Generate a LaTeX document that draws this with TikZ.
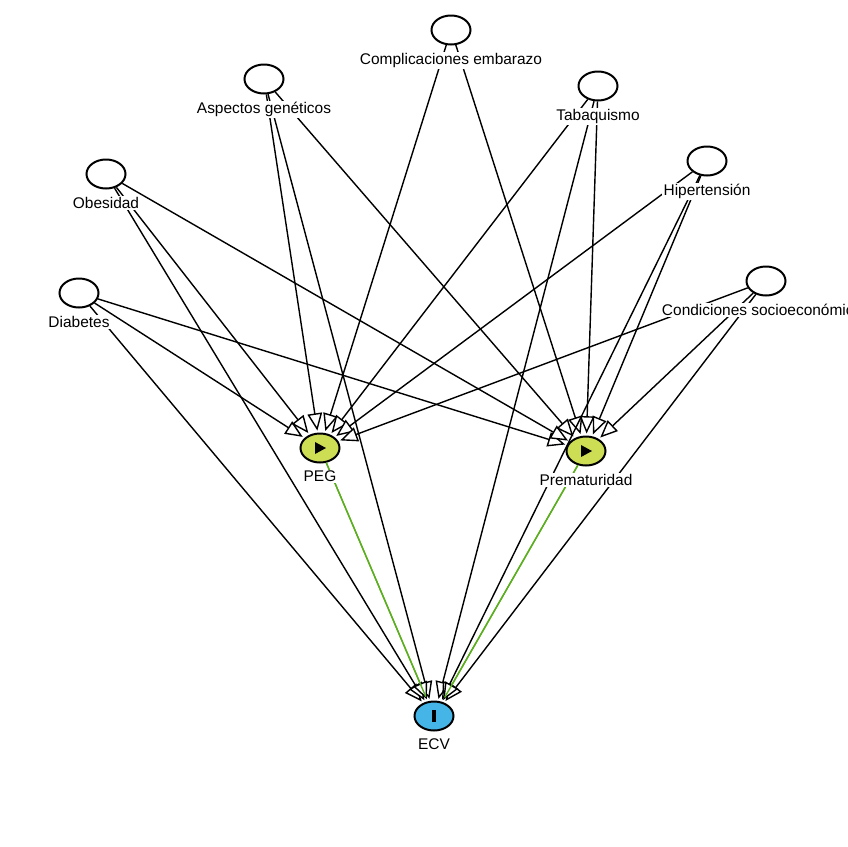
\documentclass[tikz,border=0pt]{standalone}
\usepackage{fontspec}
\setmainfont{Liberation Sans}
\usetikzlibrary{arrows.meta,positioning,shapes.geometric}
\definecolor{exposedfill}{HTML}{CEDE54}
\definecolor{outcomefill}{HTML}{45B5E8}
\definecolor{causalgreen}{HTML}{5BAE1E}
\tikzset{
	var/.style={draw, ellipse, line width=1.7pt, fill=white, inner sep=0pt, minimum width=11.7mm, minimum height=8.7mm},
	exposed/.style={var, fill=exposedfill},
	outcome/.style={var, fill=outcomefill},
	lbl/.style={fill=white, inner sep=1.2pt, font=\fontsize{13.2}{15}\selectfont},
	edge/.style={line width=1.2pt, shorten >=0.6mm, -{Triangle[open, fill=white, color=black, length=5.2mm, width=4.4mm, line width=1.2pt]}},
	causal/.style={edge, draw=causalgreen},
	causalline/.style={line width=1.2pt, shorten >=1.5mm, draw=causalgreen}
}

\begin{document}
\begin{tikzpicture}[x=0.3mm, y=-0.3mm]
	%%%%% FRAME %%%%%
	\useasboundingbox (0, 0) rectangle (848, 846);

	%%%%% VARIABLES %%%%%
	\node[var] (comp) at (451, 30) {};
	\node[var] (genes) at (264, 79) {};
	\node[var] (tabaco) at (598, 86) {};
	\node[var] (hiper) at (707, 161) {};
	\node[var] (obes) at (106, 174) {};
	\node[var] (socio) at (766, 281) {};
	\node[var] (diab) at (79, 293) {};
	\node[exposed] (peg) at (320, 448) {};
	\node[exposed] (prem) at (586, 451) {};
	\node[outcome] (ecv) at (434, 716) {};

	%%%%% EDGES %%%%%
	\draw[edge] (diab) -- (peg);
	\draw[edge] (diab) -- (prem);
	\draw[edge] (diab) -- (ecv);

	\draw[edge] (obes) -- (peg);
	\draw[edge] (obes) -- (prem);
	\draw[edge] (obes) -- (ecv);

	\draw[edge] (genes) -- (peg);
	\draw[edge] (genes) -- (prem);
	\draw[edge] (genes) -- (ecv);

	\draw[edge] (comp) -- (peg);
	\draw[edge] (comp) -- (prem);

	\draw[edge] (tabaco) -- (peg);
	\draw[edge] (tabaco) -- (prem);
	\draw[edge] (tabaco) -- (ecv);

	\draw[edge] (hiper) -- (peg);
	\draw[edge] (hiper) -- (prem);
	\draw[edge] (hiper) -- (ecv);

	\draw[edge] (socio) -- (peg);
	\draw[edge] (socio) -- (prem);
	\draw[edge] (socio) -- (ecv);

	\draw[causal] (peg) -- (ecv);
	\draw[causal] (prem) -- (ecv);
	\draw[causalline] (peg) -- (ecv);
	\draw[causalline] (prem) -- (ecv);

	%%%%% MARKS %%%%%
	\fill[shift={(peg)}] (-5, -6) -- (6, 0) -- (-5, 6) -- cycle;
	\fill[shift={(prem)}] (-5, -6) -- (6, 0) -- (-5, 6) -- cycle;
	\fill[shift={(ecv)}] (-1.7, -6) rectangle (1.7, 6);

	%%%%% LABELS %%%%%
	\node[lbl, below=6.4mm of comp.center] (complbl) {Complicaciones embarazo};
	\node[lbl, below=6.4mm of genes.center] (geneslbl) {Aspectos genéticos};
	\node[lbl, below=6.4mm of tabaco.center] (tabacolbl) {Tabaquismo};
	\node[lbl, below=6.4mm of hiper.center] (hiperlbl) {Hipertensión};
	\node[lbl, below=6.4mm of obes.center] (obeslbl) {Obesidad};
	\node[lbl, below=6.4mm of socio.center] (sociolbl) {Condiciones socioeconómicas};
	\node[lbl, below=6.4mm of diab.center] (diablbl) {Diabetes};
	\node[lbl, below=6.4mm of peg.center] (peglbl) {PEG};
	\node[lbl, below=6.4mm of prem.center] (premlbl) {Prematuridad};
	\node[lbl, below=6.4mm of ecv.center] (ecvlbl) {ECV};
\end{tikzpicture}
\end{document}
